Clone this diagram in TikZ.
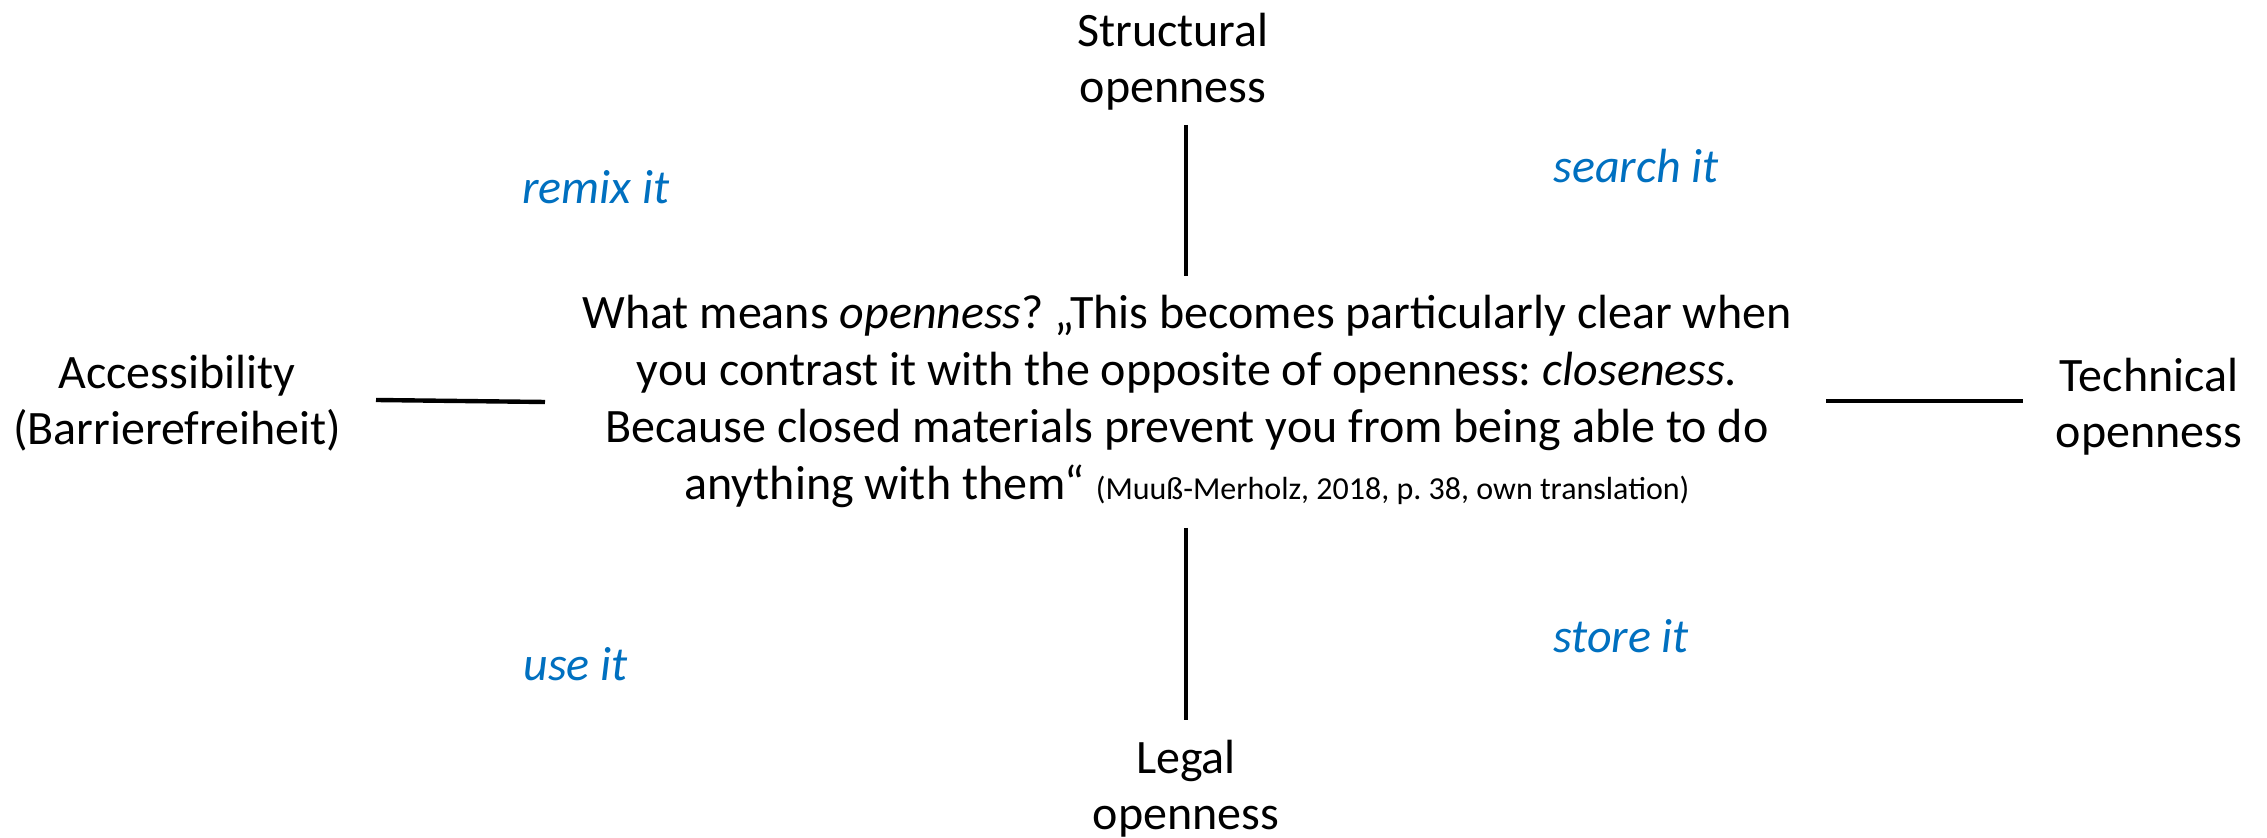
\documentclass[tikz,border=0pt]{standalone}
\usepackage{fontspec}
\setmainfont{Carlito}
\definecolor{linkblue}{RGB}{0,112,192}
\frenchspacing
\begin{document}
\begin{tikzpicture}[x=0.5pt,y=-0.5pt,
  lbl/.style={align=center,inner sep=0pt,font=\fontsize{24}{28}\selectfont},
  quote/.style={align=center,inner sep=0pt,font=\fontsize{24}{28.5}\selectfont},
  verb/.style={inner sep=0pt,anchor=base west,text=linkblue,font=\fontsize{24}{28}\selectfont\itshape},
  bar/.style={line width=2.2pt,line cap=butt}]
\useasboundingbox[fill=white] (0,0) rectangle (2267,838);

% central quotation
\node[quote] (center) at (1187,401) {What means \textit{openness}? „This becomes particularly clear when\\
you contrast it with the opposite of openness: \textit{closeness}.\\
Because closed materials prevent you from being able to do\\
anything with them“ {\fontsize{16}{18}\selectfont(Muuß-Merholz, 2018, p.~38, own translation)}};

% four dimensions
\node[lbl] (struct) at (1173,62) {Structural\\openness};
\node[lbl] (legal) at (1186,789) {Legal\\openness};
\node[lbl] (access) at (177,403) {Accessibility\\(Barrierefreiheit)};
\node[lbl] (tech) at (2149,407) {Technical\\openness};

% actions
\node[verb] (remix) at (522,204) {remix it};
\node[verb] (search) at (1553,183) {search it};
\node[verb] (use) at (523,681) {use it};
\node[verb] (store) at (1553,653) {store it};

% bars
\coordinate (t1) at (1186,125);
\coordinate (t2) at (1186,276);
\coordinate (b1) at (1186,528);
\coordinate (b2) at (1186,720);
\coordinate (l1) at (376,400);
\coordinate (l2) at (545,402);
\coordinate (r1) at (1826,401);
\coordinate (r2) at (2023,401);
\draw[bar] (t1) -- (t2);
\draw[bar] (b1) -- (b2);
\draw[bar] (l1) -- (l2);
\draw[bar] (r1) -- (r2);
\end{tikzpicture}
\end{document}
